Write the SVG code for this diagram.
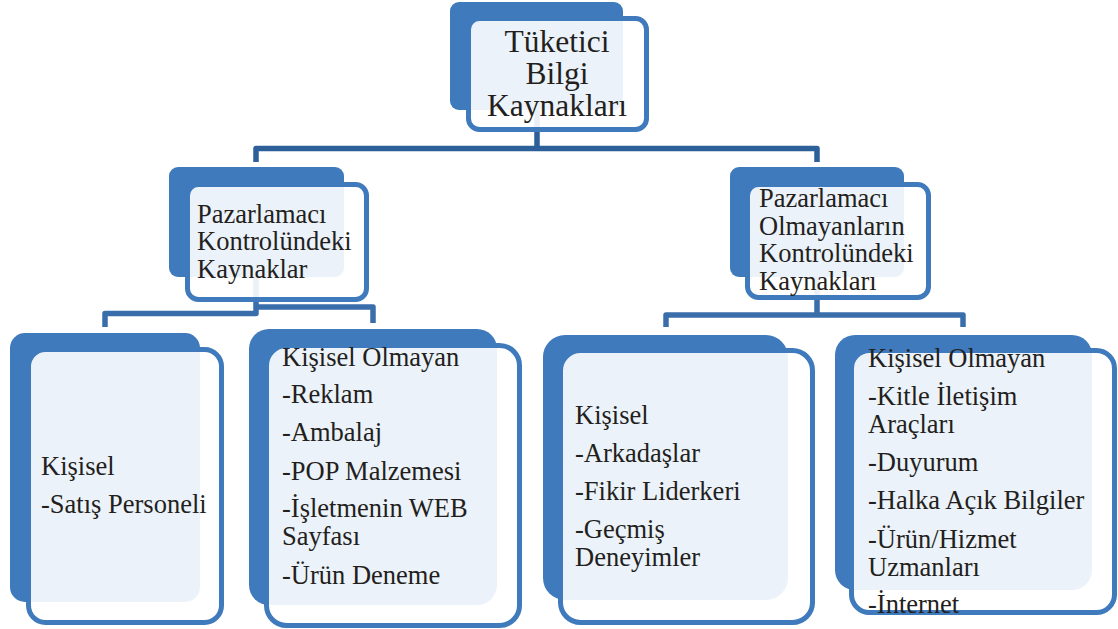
<svg xmlns="http://www.w3.org/2000/svg" width="1118" height="629" viewBox="0 0 1118 629">
  <style>
    .back { fill: #3f7abd; }
    .front { fill: #ffffff; fill-opacity: 0.9; stroke: #3f7abd; stroke-width: 5; }
    .conn { fill: none; stroke: #2d5f98; stroke-width: 5.5; stroke-linejoin: round; }
    .conn2 { fill: none; stroke: #3a6eab; stroke-width: 5.5; stroke-linejoin: round; }
    .t1 { font-size: 31.5px; text-anchor: middle; }
    .t2 { font-size: 26.5px; }
  </style>
  <rect width="1118" height="629" fill="#ffffff"/>

  <g id="connectors">
    <path class="conn" d="M537,105 V148.5 M256,162 V148.5 H817 V162"/>
    <path class="conn2" d="M256,272 V313.5 H105 V327 M256,307 H373 V323"/>
    <path class="conn2" d="M817,272 V315 M666,327 V315 H963 V327"/>
  </g>

  <g font-family="Liberation Serif, Tinos, DejaVu Serif, serif" fill="#231f20">
  <g id="node-root">
    <rect class="back" x="450" y="2" width="173" height="108" rx="9"/>
    <rect class="front" x="468.5" y="18.5" width="178" height="111" rx="11"/>
    <text class="t1" x="557" y="52">Tüketici</text>
    <text class="t1" x="557" y="84">Bilgi</text>
    <text class="t1" x="557" y="116">Kaynakları</text>
  </g>

  <g id="node-left-mid">
    <rect class="back" x="169" y="167" width="175" height="110" rx="9"/>
    <rect class="front" x="187.5" y="184.5" width="179" height="115" rx="11"/>
    <text class="t2" x="197" y="222.5">Pazarlamacı</text>
    <text class="t2" x="197" y="250">Kontrolündeki</text>
    <text class="t2" x="197" y="277.5">Kaynaklar</text>
  </g>

  <g id="node-right-mid">
    <rect class="back" x="730" y="167" width="174" height="110" rx="9"/>
    <rect class="front" x="747.5" y="184.5" width="181" height="113" rx="11"/>
    <text class="t2" x="759" y="207">Pazarlamacı</text>
    <text class="t2" x="759" y="234.5">Olmayanların</text>
    <text class="t2" x="759" y="262">Kontrolündeki</text>
    <text class="t2" x="759" y="289.5">Kaynakları</text>
  </g>

  <g id="node-kisisel-left">
    <rect class="back" x="10" y="333" width="190" height="269" rx="15"/>
    <rect class="front" x="28.5" y="349.5" width="193" height="273" rx="17"/>
    <text class="t2" x="41" y="475">Kişisel</text>
    <text class="t2" x="41" y="513">-Satış Personeli</text>
  </g>

  <g id="node-kisisel-olmayan-left">
    <rect class="back" x="249" y="329" width="248" height="276" rx="20"/>
    <rect class="front" x="266.5" y="345.5" width="253" height="280" rx="20"/>
    <text class="t2" x="282" y="365.5">Kişisel Olmayan</text>
    <text class="t2" x="282" y="403">-Reklam</text>
    <text class="t2" x="282" y="441">-Ambalaj</text>
    <text class="t2" x="282" y="479.5">-POP Malzemesi</text>
    <text class="t2" x="282" y="517">-İşletmenin WEB</text>
    <text class="t2" x="282" y="545">Sayfası</text>
    <text class="t2" x="282" y="583.5">-Ürün Deneme</text>
  </g>

  <g id="node-kisisel-right">
    <rect class="back" x="543" y="335" width="245" height="265" rx="22"/>
    <rect class="front" x="560.5" y="350.5" width="252" height="272" rx="20"/>
    <text class="t2" x="575" y="423.5">Kişisel</text>
    <text class="t2" x="575" y="462">-Arkadaşlar</text>
    <text class="t2" x="575" y="500">-Fikir Liderkeri</text>
    <text class="t2" x="575" y="538">-Geçmiş</text>
    <text class="t2" x="575" y="566">Deneyimler</text>
  </g>

  <g id="node-kisisel-olmayan-right">
    <rect class="back" x="835" y="335" width="257" height="255" rx="20"/>
    <rect class="front" x="851.5" y="350.5" width="263" height="262" rx="18"/>
    <text class="t2" x="868" y="366.5">Kişisel Olmayan</text>
    <text class="t2" x="868" y="405">-Kitle İletişim</text>
    <text class="t2" x="868" y="433">Araçları</text>
    <text class="t2" x="868" y="471">-Duyurum</text>
    <text class="t2" x="868" y="509">-Halka Açık Bilgiler</text>
    <text class="t2" x="868" y="548">-Ürün/Hizmet</text>
    <text class="t2" x="868" y="575.5">Uzmanları</text>
    <text class="t2" x="868" y="613">-İnternet</text>
  </g>
  </g>
</svg>
